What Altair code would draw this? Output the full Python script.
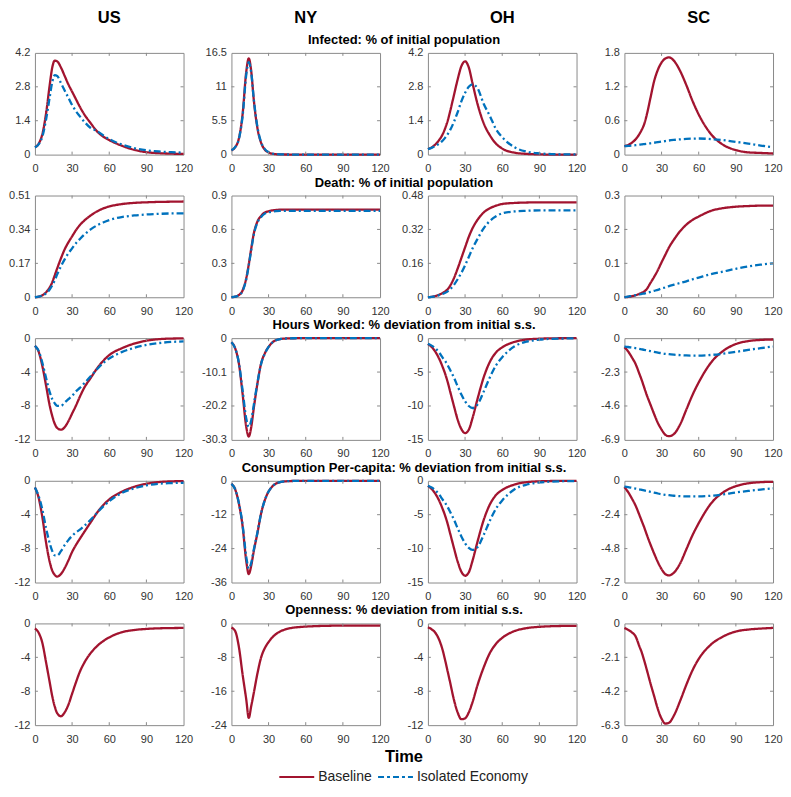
import altair as alt
import pandas as pd

# ---------------- data ----------------
T = [0, 3, 6, 9, 12, 14, 16, 18, 21, 24, 27, 30, 33, 36, 40, 45, 50, 55, 60, 70, 80, 90, 100, 110, 120]
REGIONS = ["US", "NY", "OH", "SC"]
SERIES = ["Baseline", "Isolated Economy"]
ROW_TITLES = [
    "Infected: % of initial population",
    "Death: % of initial population",
    "Hours Worked: % deviation from initial s.s.",
    "Consumption Per-capita: % deviation from initial s.s.",
    "Openness: % deviation from initial s.s.",
]
X_TICKS = [0, 30, 60, 90, 120]
Y_TICKS = [
    [[0, 1.4, 2.8, 4.2], [0, 5.5, 11, 16.5], [0, 1.4, 2.8, 4.2], [0, 0.6, 1.2, 1.8]],
    [[0, 0.17, 0.34, 0.51], [0, 0.3, 0.6, 0.9], [0, 0.16, 0.32, 0.48], [0, 0.1, 0.2, 0.3]],
    [[-12, -8, -4, 0], [-30.3, -20.2, -10.1, 0], [-15, -10, -5, 0], [-6.9, -4.6, -2.3, 0]],
    [[-12, -8, -4, 0], [-36, -24, -12, 0], [-15, -10, -5, 0], [-7.2, -4.8, -2.4, 0]],
    [[-12, -8, -4, 0], [-24, -16, -8, 0], [-12, -8, -4, 0], [-6.3, -4.2, -2.1, 0]],
]

# Infected
inf_us_b = [0.30, 0.45, 0.85, 1.7, 2.9, 3.6, 3.88, 3.85, 3.6, 3.25, 2.9, 2.6, 2.3, 2.0, 1.65, 1.3, 0.97, 0.75, 0.6, 0.37, 0.2, 0.1, 0.06, 0.04, 0.03]
inf_us_i = [0.30, 0.42, 0.75, 1.45, 2.4, 3.0, 3.28, 3.25, 2.95, 2.65, 2.35, 2.05, 1.8, 1.6, 1.35, 1.1, 0.98, 0.8, 0.64, 0.42, 0.27, 0.18, 0.13, 0.1, 0.08]
inf_ny_b = [0.7, 1.2, 2.6, 6.5, 13.5, 15.6, 13.5, 9.0, 4.3, 1.9, 0.8, 0.35, 0.15, 0.07, 0.03, 0.02, 0.01, 0.01, 0.01, 0, 0, 0, 0, 0, 0]
inf_ny_i = [0.7, 1.2, 2.5, 6.2, 13.0, 15.0, 13.3, 9.1, 4.5, 2.0, 0.9, 0.4, 0.18, 0.08, 0.04, 0.02, 0.01, 0.01, 0.01, 0, 0, 0, 0, 0, 0]
inf_oh_b = [0.23, 0.3, 0.42, 0.6, 0.85, 1.1, 1.4, 1.8, 2.45, 3.1, 3.65, 3.85, 3.6, 2.95, 2.1, 1.3, 0.8, 0.45, 0.25, 0.08, 0.03, 0.01, 0, 0, 0]
inf_oh_i = [0.23, 0.28, 0.36, 0.45, 0.58, 0.7, 0.85, 1.02, 1.35, 1.75, 2.2, 2.55, 2.8, 2.9, 2.75, 2.1, 1.6, 1.05, 0.72, 0.3, 0.12, 0.05, 0.02, 0.01, 0.01]
inf_sc_b = [0.15, 0.17, 0.21, 0.27, 0.36, 0.44, 0.54, 0.7, 1.0, 1.3, 1.5, 1.63, 1.7, 1.72, 1.66, 1.48, 1.23, 0.95, 0.71, 0.36, 0.17, 0.08, 0.04, 0.03, 0.02]
inf_sc_i = [0.15, 0.155, 0.16, 0.168, 0.175, 0.18, 0.187, 0.193, 0.2, 0.21, 0.22, 0.23, 0.24, 0.25, 0.26, 0.27, 0.278, 0.283, 0.285, 0.275, 0.255, 0.225, 0.195, 0.16, 0.13]

# Death
dth_us_b = [0, 0.003, 0.01, 0.025, 0.05, 0.075, 0.11, 0.145, 0.195, 0.24, 0.275, 0.305, 0.335, 0.36, 0.385, 0.41, 0.43, 0.445, 0.455, 0.467, 0.473, 0.476, 0.478, 0.479, 0.48]
dth_us_i = [0, 0.003, 0.009, 0.02, 0.04, 0.06, 0.085, 0.115, 0.155, 0.19, 0.22, 0.245, 0.27, 0.29, 0.315, 0.34, 0.36, 0.375, 0.387, 0.402, 0.41, 0.415, 0.418, 0.42, 0.42]
dth_ny_b = [0, 0.005, 0.02, 0.06, 0.17, 0.29, 0.43, 0.56, 0.67, 0.72, 0.75, 0.76, 0.768, 0.772, 0.775, 0.776, 0.776, 0.776, 0.776, 0.776, 0.776, 0.776, 0.776, 0.776, 0.776]
dth_ny_i = [0, 0.005, 0.018, 0.055, 0.16, 0.28, 0.42, 0.55, 0.66, 0.71, 0.74, 0.752, 0.758, 0.762, 0.764, 0.765, 0.765, 0.765, 0.765, 0.765, 0.765, 0.765, 0.765, 0.765, 0.765]
dth_oh_b = [0, 0.002, 0.006, 0.012, 0.02, 0.028, 0.038, 0.055, 0.09, 0.135, 0.185, 0.235, 0.285, 0.325, 0.365, 0.4, 0.42, 0.432, 0.44, 0.445, 0.447, 0.448, 0.448, 0.448, 0.448]
dth_oh_i = [0, 0.002, 0.005, 0.01, 0.016, 0.021, 0.028, 0.038, 0.058, 0.085, 0.115, 0.15, 0.19, 0.23, 0.275, 0.325, 0.36, 0.382, 0.396, 0.405, 0.408, 0.41, 0.41, 0.41, 0.41]
dth_sc_b = [0, 0.001, 0.003, 0.006, 0.01, 0.013, 0.017, 0.024, 0.042, 0.06, 0.08, 0.103, 0.125, 0.147, 0.17, 0.195, 0.214, 0.228, 0.238, 0.255, 0.263, 0.267, 0.269, 0.27, 0.27]
dth_sc_i = [0, 0.002, 0.004, 0.006, 0.008, 0.01, 0.011, 0.013, 0.016, 0.019, 0.022, 0.026, 0.029, 0.033, 0.037, 0.042, 0.047, 0.053, 0.058, 0.068, 0.076, 0.084, 0.091, 0.096, 0.1]

# Hours worked
hrs_us_b = [-0.9, -1.6, -3.3, -5.6, -8.0, -9.2, -10.1, -10.6, -10.8, -10.5, -9.8, -8.9, -8.0, -7.0, -5.8, -4.7, -3.6, -2.7, -2.0, -1.2, -0.65, -0.3, -0.12, -0.05, -0.03]
hrs_us_i = [-0.9, -1.5, -2.9, -4.7, -6.4, -7.2, -7.7, -8.0, -8.0, -7.6, -7.2, -6.8, -6.3, -5.9, -5.3, -4.5, -3.7, -2.95, -2.4, -1.65, -1.15, -0.8, -0.58, -0.45, -0.38]
hrs_ny_b = [-1.2, -3.0, -7.5, -16.5, -26.5, -29.3, -26.5, -21.0, -13.5, -7.5, -4.5, -2.6, -1.3, -0.6, -0.25, -0.08, -0.03, -0.02, -0.02, -0.01, 0, 0, 0, 0, 0]
hrs_ny_i = [-1.2, -3.0, -7.3, -15.5, -24.0, -26.4, -24.5, -20.0, -13.3, -7.6, -4.6, -2.6, -1.3, -0.6, -0.25, -0.08, -0.03, -0.02, -0.02, -0.01, 0, 0, 0, 0, 0]
hrs_oh_b = [-0.85, -1.3, -2.0, -3.0, -4.3, -5.3, -6.5, -7.9, -10.0, -12.0, -13.4, -14.0, -13.5, -11.8, -9.0, -5.8, -3.5, -2.1, -1.35, -0.55, -0.2, -0.08, -0.03, -0.01, 0]
hrs_oh_i = [-0.85, -1.1, -1.5, -2.1, -2.9, -3.4, -4.0, -4.7, -5.8, -7.1, -8.3, -9.3, -10.0, -10.3, -9.8, -7.9, -5.8, -4.0, -2.8, -1.2, -0.5, -0.22, -0.1, -0.05, -0.03]
hrs_sc_b = [-0.62, -0.9, -1.3, -1.75, -2.4, -2.85, -3.35, -3.85, -4.5, -5.15, -5.75, -6.2, -6.55, -6.65, -6.5, -5.85, -4.85, -3.85, -3.0, -1.65, -0.85, -0.4, -0.2, -0.12, -0.09]
hrs_sc_i = [-0.57, -0.6, -0.64, -0.68, -0.73, -0.76, -0.79, -0.83, -0.88, -0.93, -0.98, -1.02, -1.06, -1.09, -1.12, -1.15, -1.17, -1.18, -1.18, -1.14, -1.05, -0.93, -0.8, -0.68, -0.57]

# Consumption per-capita
con_us_b = [-0.8, -2.0, -4.3, -7.3, -9.6, -10.6, -11.1, -11.3, -11.0, -10.3, -9.4, -8.4, -7.6, -6.9, -6.0, -4.9, -3.8, -2.9, -2.2, -1.3, -0.72, -0.35, -0.15, -0.07, -0.04]
con_us_i = [-0.8, -1.8, -3.4, -5.6, -7.4, -8.3, -8.8, -8.8, -8.3, -7.6, -7.0, -6.5, -6.1, -5.8, -5.3, -4.6, -3.8, -3.05, -2.4, -1.45, -0.9, -0.55, -0.35, -0.27, -0.23]
con_ny_b = [-1.1, -3.0, -8.0, -16.0, -28.5, -33.0, -30.0, -25.0, -18.5, -11.5, -6.8, -3.8, -2.0, -1.0, -0.4, -0.15, -0.06, -0.03, -0.02, -0.01, -0.01, 0, 0, 0, 0]
con_ny_i = [-1.1, -3.0, -7.8, -15.5, -27.0, -31.0, -29.0, -24.5, -18.3, -11.5, -6.8, -3.8, -2.0, -1.0, -0.4, -0.15, -0.06, -0.03, -0.02, -0.01, -0.01, 0, 0, 0, 0]
con_oh_b = [-0.75, -1.2, -1.9, -2.9, -4.2, -5.2, -6.4, -7.8, -9.9, -11.9, -13.4, -14.0, -13.5, -11.8, -9.0, -5.8, -3.5, -2.1, -1.35, -0.55, -0.2, -0.08, -0.03, -0.01, 0]
con_oh_i = [-0.75, -1.0, -1.4, -2.0, -2.8, -3.3, -3.9, -4.6, -5.7, -7.0, -8.2, -9.2, -9.9, -10.2, -9.8, -8.0, -5.9, -4.1, -2.9, -1.25, -0.55, -0.25, -0.12, -0.06, -0.04]
con_sc_b = [-0.45, -0.8, -1.25, -1.75, -2.4, -2.85, -3.3, -3.8, -4.5, -5.15, -5.75, -6.25, -6.6, -6.7, -6.5, -5.85, -4.85, -3.85, -3.0, -1.6, -0.8, -0.38, -0.18, -0.1, -0.07]
con_sc_i = [-0.41, -0.45, -0.5, -0.55, -0.6, -0.64, -0.68, -0.72, -0.78, -0.84, -0.9, -0.95, -0.99, -1.02, -1.06, -1.09, -1.1, -1.1, -1.1, -1.06, -0.96, -0.83, -0.72, -0.62, -0.53]

# Openness (baseline only)
opn_us_b = [-0.6, -1.1, -2.3, -4.6, -7.0, -8.6, -9.8, -10.6, -10.95, -10.5, -9.6, -8.3, -7.0, -5.8, -4.6, -3.5, -2.7, -2.1, -1.65, -1.05, -0.78, -0.65, -0.58, -0.55, -0.53]
opn_ny_b = [-1.0, -1.8, -5.5, -12.0, -18.0, -22.3, -19.5, -16.5, -11.8, -8.0, -5.8, -4.4, -3.3, -2.5, -1.8, -1.3, -1.0, -0.85, -0.75, -0.62, -0.55, -0.52, -0.5, -0.5, -0.5]
opn_oh_b = [-0.45, -0.7, -1.1, -1.9, -3.2, -4.4, -5.7, -7.0, -9.0, -10.5, -11.3, -11.2, -10.5, -9.3, -7.3, -5.2, -3.5, -2.4, -1.7, -0.9, -0.55, -0.4, -0.33, -0.3, -0.3]
opn_sc_b = [-0.28, -0.4, -0.55, -0.8, -1.4, -1.8, -2.3, -2.85, -3.7, -4.5, -5.3, -5.9, -6.2, -6.15, -5.7, -4.8, -3.8, -2.9, -2.2, -1.3, -0.8, -0.5, -0.38, -0.32, -0.28]

DATA = [
    [[inf_us_b, inf_us_i], [inf_ny_b, inf_ny_i], [inf_oh_b, inf_oh_i], [inf_sc_b, inf_sc_i]],
    [[dth_us_b, dth_us_i], [dth_ny_b, dth_ny_i], [dth_oh_b, dth_oh_i], [dth_sc_b, dth_sc_i]],
    [[hrs_us_b, hrs_us_i], [hrs_ny_b, hrs_ny_i], [hrs_oh_b, hrs_oh_i], [hrs_sc_b, hrs_sc_i]],
    [[con_us_b, con_us_i], [con_ny_b, con_ny_i], [con_oh_b, con_oh_i], [con_sc_b, con_sc_i]],
    [[opn_us_b], [opn_ny_b], [opn_oh_b], [opn_sc_b]],
]

# ---------------- style ----------------
W, H = 149, 102
GAP_C, GAP_R = 48, 41
MID = W + GAP_C / 2
FONT = "Liberation Sans"
COLORS = ["#A2142F", "#0072BD"]
DASHES = [[1, 0], [7, 3, 2, 3]]
BOX = "#8a8a8a"


def panel(r, c):
    ticks = Y_TICKS[r][c]
    lo, hi = min(ticks), max(ticks)
    recs = []
    for s, vals in zip(SERIES, DATA[r][c]):
        for t, v in zip(T, vals):
            recs.append({"t": t, "v": v, "series": s})
    df = pd.DataFrame(recs)
    xs = alt.Scale(domain=[0, 120], nice=False, zero=False)
    ys = alt.Scale(domain=[lo, hi], nice=False, zero=False)
    xaxis = alt.Axis(values=X_TICKS, title=None, ticks=False, domain=False, grid=False,
                     labelPadding=8, labelFlush=False, labelOverlap=False, labelBound=False)
    yaxis = alt.Axis(values=ticks, title=None, ticks=False, domain=False, grid=False,
                     labelPadding=5, labelOverlap=False, labelBound=False, labelFlush=False,
                     labelExpr="toString(datum.value)")

    lines = alt.Chart(df).mark_line(strokeWidth=2.3, interpolate="monotone").encode(
        x=alt.X("t:Q", scale=xs, axis=xaxis),
        y=alt.Y("v:Q", scale=ys, axis=yaxis),
        color=alt.Color("series:N", scale=alt.Scale(domain=SERIES, range=COLORS), legend=None),
        strokeDash=alt.StrokeDash("series:N", scale=alt.Scale(domain=SERIES, range=DASHES), legend=None),
    )

    xt = alt.Chart(pd.DataFrame({"t": X_TICKS[1:-1]})).mark_rule(color=BOX, strokeWidth=1)
    yt = alt.Chart(pd.DataFrame({"v": ticks[1:-1]})).mark_rule(color=BOX, strokeWidth=1)
    xb = xt.encode(x=alt.X("t:Q", scale=xs, axis=xaxis), y=alt.value(H), y2=alt.value(H - 3))
    xtp = xt.encode(x=alt.X("t:Q", scale=xs, axis=xaxis), y=alt.value(0), y2=alt.value(3))
    yl = yt.encode(y=alt.Y("v:Q", scale=ys, axis=yaxis), x=alt.value(0), x2=alt.value(3))
    yr = yt.encode(y=alt.Y("v:Q", scale=ys, axis=yaxis), x=alt.value(W - 3), x2=alt.value(W))

    layers = [lines, xb, xtp, yl, yr]

    if r == 0:
        layers.append(
            alt.Chart(pd.DataFrame({"s": [REGIONS[c]]})).mark_text(
                font=FONT, fontSize=16.5, fontWeight="bold", color="black", baseline="alphabetic"
            ).encode(text="s:N", x=alt.value(W / 2), y=alt.value(-30))
        )
    if c == 1:
        layers.append(
            alt.Chart(pd.DataFrame({"s": [ROW_TITLES[r]]})).mark_text(
                font=FONT, fontSize=13, fontWeight="bold", color="black", baseline="alphabetic"
            ).encode(text="s:N", x=alt.value(MID), y=alt.value(-9))
        )
    if r == 4 and c == 1:
        layers.append(
            alt.Chart(pd.DataFrame({"s": ["Time"]})).mark_text(
                font=FONT, fontSize=16.5, fontWeight="bold", color="black", baseline="alphabetic"
            ).encode(text="s:N", x=alt.value(MID), y=alt.value(H + 37))
        )
        ly = H + 52
        leg = pd.DataFrame({"s": SERIES})
        layers.append(
            alt.Chart(leg.iloc[[0]]).mark_rule(strokeWidth=1.8, color=COLORS[0]).encode(
                x=alt.value(MID - 125), x2=alt.value(MID - 90), y=alt.value(ly)))
        layers.append(
            alt.Chart(leg.iloc[[1]]).mark_rule(strokeWidth=1.8, color=COLORS[1], strokeDash=[6, 3, 3, 3]).encode(
                x=alt.value(MID - 26), x2=alt.value(MID + 9), y=alt.value(ly)))
        layers.append(
            alt.Chart(leg.iloc[[0]]).mark_text(font=FONT, fontSize=14, color="#222", align="left",
                                              baseline="middle").encode(
                text="s:N", x=alt.value(MID - 86), y=alt.value(ly)))
        layers.append(
            alt.Chart(leg.iloc[[1]]).mark_text(font=FONT, fontSize=14, color="#222", align="left",
                                              baseline="middle").encode(
                text="s:N", x=alt.value(MID + 13), y=alt.value(ly)))

    return alt.layer(*layers).properties(width=W, height=H)


panels = [panel(r, c) for r in range(5) for c in range(4)]

chart = alt.concat(
    *panels, columns=4, spacing={"row": GAP_R, "column": GAP_C}, bounds="flush"
).properties(
    padding={"left": 0, "top": 0, "right": 0, "bottom": 0}
).configure_view(
    stroke=BOX, strokeWidth=1
).configure_axis(
    labelFont=FONT, labelFontSize=11, labelColor="#333333"
)

chart.save("out.html", embed_options={"renderer": "svg", "actions": False})
